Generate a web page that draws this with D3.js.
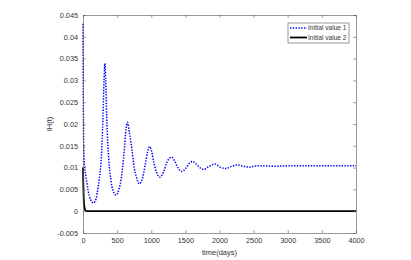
<!DOCTYPE html>
<html>
<head>
<meta charset="utf-8">
<script src="https://cdn.jsdelivr.net/npm/d3@7"></script>
<style>
  html, body { margin: 0; padding: 0; background: #fff; }
  svg { display: block; font-family: "Liberation Sans", Arial, sans-serif; }
</style>
</head>
<body>
<div id="chart"></div>
<script>
// Initial value 1 (blue dotted)
const blueT = [0, 3, 8, 15, 25, 44, 73, 110, 155, 195, 215, 240, 259, 280, 293, 308, 320, 333, 347, 365, 386, 410, 435, 484, 530, 560, 581, 605, 630, 650, 680, 718, 750, 781, 825, 870, 910, 945, 975, 1005, 1040, 1080, 1128, 1180, 1230, 1270, 1300, 1340, 1390, 1446, 1500, 1560, 1607, 1660, 1720, 1773, 1840, 1934, 2010, 2095, 2180, 2260, 2350, 2430, 2550, 2650, 2800, 3000, 3500, 4000];
const blueV = [0.043, 0.030, 0.018, 0.0125, 0.0100, 0.0079, 0.0049, 0.0027, 0.0019, 0.0030, 0.0049, 0.0075, 0.0102, 0.0160, 0.0217, 0.0300, 0.0339, 0.0300, 0.0217, 0.0150, 0.0102, 0.0070, 0.0049, 0.0037, 0.0052, 0.0075, 0.0102, 0.0140, 0.0188, 0.0204, 0.0180, 0.0140, 0.0100, 0.0079, 0.0063, 0.0075, 0.0105, 0.0135, 0.0148, 0.0138, 0.0110, 0.0088, 0.0078, 0.0090, 0.0112, 0.0122, 0.0124, 0.0116, 0.0100, 0.0091, 0.0097, 0.0110, 0.0114, 0.0108, 0.0099, 0.0096, 0.0102, 0.0108, 0.0101, 0.0098, 0.0103, 0.0106, 0.0103, 0.0101, 0.0104, 0.0104, 0.0103, 0.0104, 0.0104, 0.0104];

// Initial value 2 (black solid)
const blackT = [0, 5, 10, 20, 35, 60, 4000];
const blackV = [0.0100, 0.0060, 0.0030, 0.0010, 0.0002, 0, 0];

const xTicks = [0, 500, 1000, 1500, 2000, 2500, 3000, 3500, 4000];
const yTicks = [-0.005, 0, 0.005, 0.01, 0.015, 0.02, 0.025, 0.03, 0.035, 0.04, 0.045];
const seriesNames = ["Initial value 1", "Initial value 2"];

const W = 411, H = 260;
const m = {left: 83, right: 55, top: 15, bottom: 27};
const iw = W - m.left - m.right, ih = H - m.top - m.bottom;
const axisColor = "#555";
const textColor = "#333";

const svg = d3.select("#chart").append("svg").attr("width", W).attr("height", H);
const g = svg.append("g").attr("transform", "translate(" + m.left + "," + m.top + ")");

const x = d3.scaleLinear().domain([0, 4000]).range([0, iw]);
const y = d3.scaleLinear().domain([-0.005, 0.045]).range([ih, 0]);

const line = d3.line().x(d => x(d[0])).y(d => y(d[1])).curve(d3.curveMonotoneX);

// Data lines
g.append("path")
  .datum(blueT.map((t, i) => [t, blueV[i]]))
  .attr("d", line)
  .attr("fill", "none")
  .attr("stroke", "#0000ff")
  .attr("stroke-width", 1.5)
  .attr("stroke-dasharray", "1.4,1.4");

g.append("path")
  .datum(blackT.map((t, i) => [t, blackV[i]]))
  .attr("d", line)
  .attr("fill", "none")
  .attr("stroke", "#000")
  .attr("stroke-width", 1.8);

// Axes (MATLAB box with inward ticks)
const tl = 2.7;
const xAxisB = d3.axisBottom(x).tickValues(xTicks).tickSizeInner(-tl).tickSizeOuter(0).tickPadding(5).tickFormat(d3.format("d"));
const xAxisT = d3.axisTop(x).tickValues(xTicks).tickSizeInner(-tl).tickSizeOuter(0).tickFormat("");
const yAxisL = d3.axisLeft(y).tickValues(yTicks).tickSizeInner(-tl).tickSizeOuter(0).tickPadding(5).tickFormat(d => +d.toFixed(3) + "");
const yAxisR = d3.axisRight(y).tickValues(yTicks).tickSizeInner(-tl).tickSizeOuter(0).tickFormat("");

const axes = [
  g.append("g").attr("transform", "translate(0," + ih + ")").call(xAxisB),
  g.append("g").call(xAxisT),
  g.append("g").call(yAxisL),
  g.append("g").attr("transform", "translate(" + iw + ",0)").call(yAxisR)
];
axes.forEach(a => {
  a.select(".domain").attr("stroke", axisColor).attr("stroke-width", 0.6);
  a.selectAll(".tick line").attr("stroke", axisColor).attr("stroke-width", 0.6);
  a.selectAll("text").attr("fill", textColor).attr("font-size", 7.3).attr("font-family", "Liberation Sans, Arial, sans-serif");
});

// Axis labels
g.append("text")
  .attr("x", iw / 2).attr("y", ih + 22)
  .attr("text-anchor", "middle")
  .attr("font-size", 7.5)
  .attr("fill", textColor)
  .text("time(days)");

g.append("text")
  .attr("transform", "translate(" + (-31) + "," + (ih / 2) + ") rotate(-90)")
  .attr("text-anchor", "middle")
  .attr("font-size", 7.5)
  .attr("fill", textColor)
  .text("IH(t)");

// Legend
const lg = svg.append("g").attr("transform", "translate(288,23)");
lg.append("rect")
  .attr("width", 61).attr("height", 20)
  .attr("fill", "#fff")
  .attr("stroke", axisColor)
  .attr("stroke-width", 0.6);
const legendStyles = [
  {color: "#0000ff", dash: "1.4,1.4", width: 1.5},
  {color: "#000", dash: null, width: 1.8}
];
seriesNames.forEach((name, i) => {
  const row = lg.append("g").attr("transform", "translate(0," + (5 + i * 9.5) + ")");
  row.append("line")
    .attr("x1", 2).attr("x2", 19)
    .attr("stroke", legendStyles[i].color)
    .attr("stroke-width", legendStyles[i].width)
    .attr("stroke-dasharray", legendStyles[i].dash);
  row.append("text")
    .attr("x", 20).attr("y", 2.3)
    .attr("font-size", 6.6)
    .attr("fill", textColor)
    .text(name);
});
</script>
</body>
</html>
